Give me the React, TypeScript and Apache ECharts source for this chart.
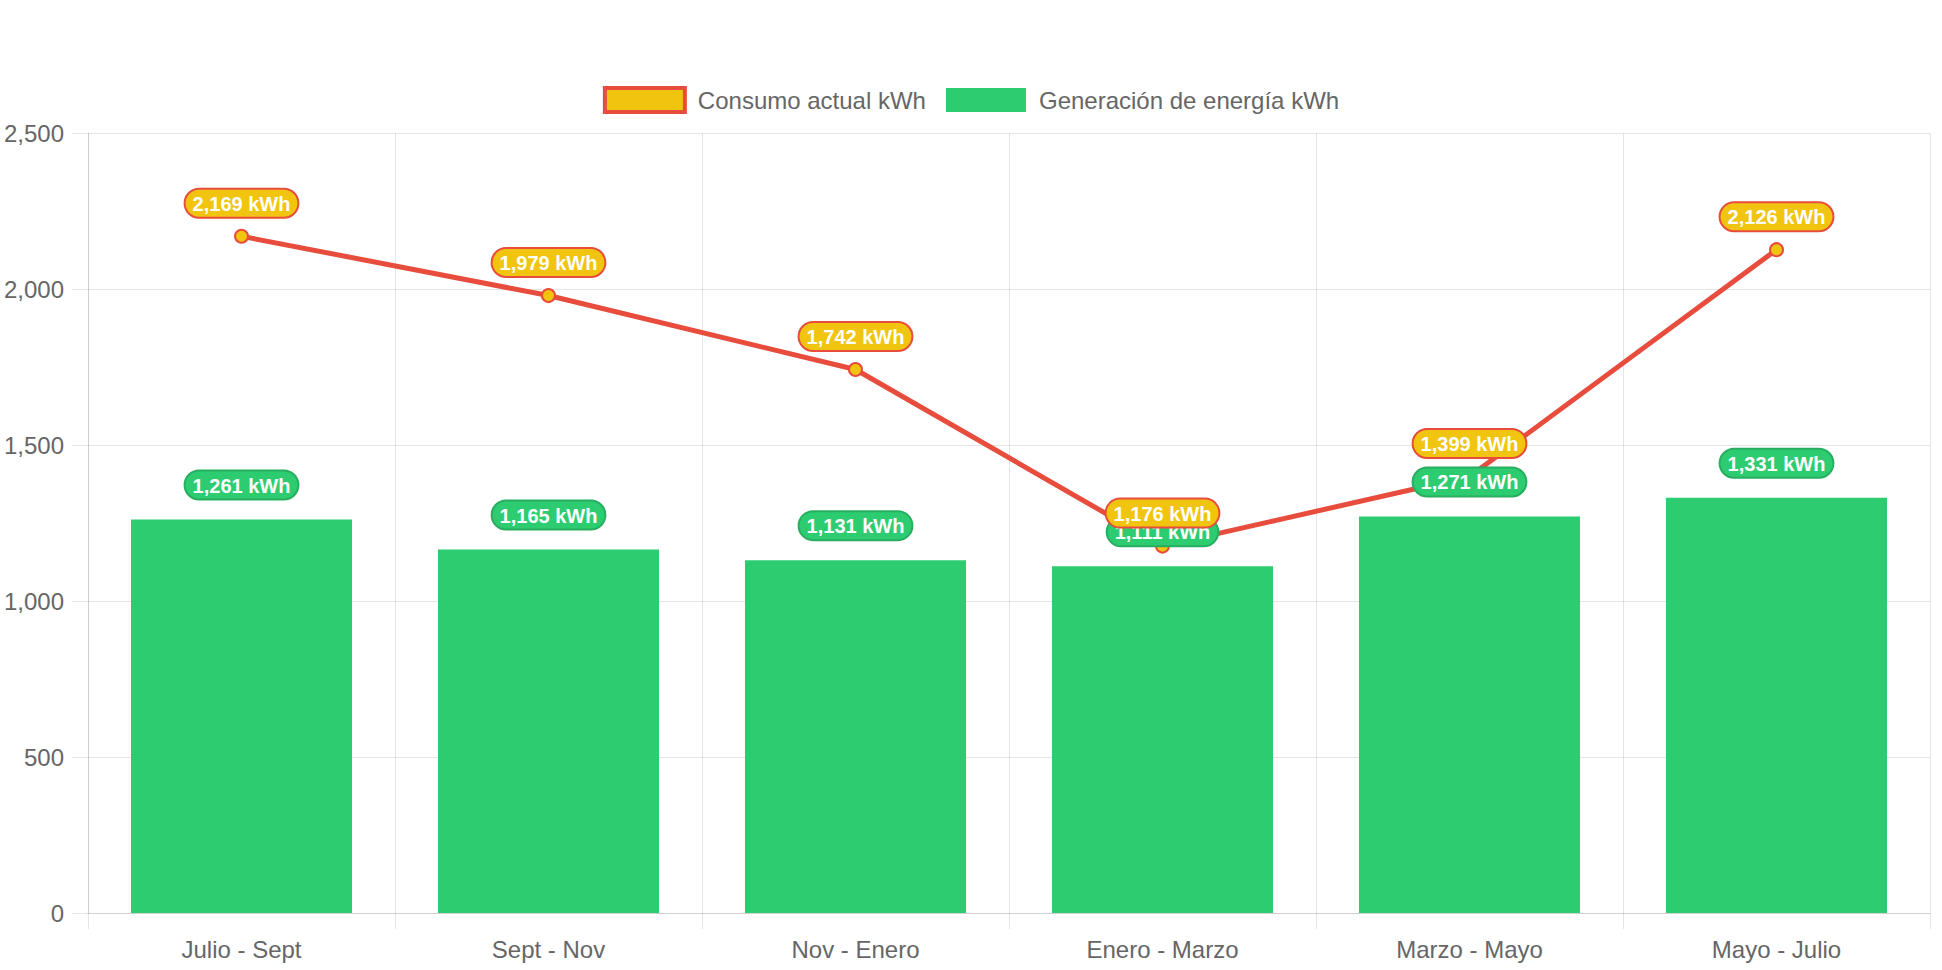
import React, { useEffect, useRef } from 'react';
import * as echarts from 'echarts';

const categories = ['Julio - Sept', 'Sept - Nov', 'Nov - Enero', 'Enero - Marzo', 'Marzo - Mayo', 'Mayo - Julio'];
const consumo = [2169, 1979, 1742, 1176, 1399, 2126];
const generacion = [1261, 1165, 1131, 1111, 1271, 1331];
const yTicks = [0, 500, 1000, 1500, 2000, 2500];
const seriesNames = ['Consumo actual kWh', 'Generación de energía kWh'];

const FONT = "'Liberation Sans', Arial, Helvetica, sans-serif";
const fmt = (v: number) => v.toLocaleString('en-US');

const labelBase = {
  show: true,
  position: 'top',
  formatter: (p: any) => fmt(p.value) + ' kWh',
  color: '#fff',
  fontWeight: 'bold',
  fontSize: 20,
  fontFamily: FONT,
  lineHeight: 22,
  borderWidth: 2,
  borderRadius: 14,
  padding: [3, 7, 2, 7],
  opacity: 1,
};

export default function App() {
  const ref = useRef<HTMLDivElement>(null);
  useEffect(() => {
    if (!ref.current) return;
    const chart = echarts.init(ref.current, undefined, { renderer: 'svg' });
    const gridColor = 'rgba(0,0,0,0.1)';
    chart.setOption({
      animation: false,
      textStyle: { fontFamily: FONT },
      legend: {
        top: 81,
        left: 'center',
        itemWidth: 80,
        itemHeight: 24,
        itemGap: 20,
        textStyle: { color: '#666', fontSize: 24, fontFamily: FONT, padding: [0, 0, 0, 8] },
        data: [
          { name: seriesNames[0], icon: 'rect', itemStyle: { color: '#f1c40f', borderColor: '#e74c3c', borderWidth: 4 } },
          { name: seriesNames[1], icon: 'rect', itemStyle: { color: '#2ecc71', borderWidth: 0 } },
        ],
      },
      grid: { left: 88, right: 12, top: 133, bottom: 57, containLabel: false },
      xAxis: {
        type: 'category',
        data: categories,
        boundaryGap: true,
        axisLine: { show: true, lineStyle: { color: '#d0d0d0', width: 1 } },
        axisTick: { show: true, length: 16, lineStyle: { color: gridColor } },
        axisLabel: { color: '#666', fontSize: 24, fontFamily: FONT, margin: 24 },
        splitLine: { show: true, lineStyle: { color: gridColor, width: 1 } },
      },
      yAxis: {
        type: 'value',
        min: yTicks[0],
        max: yTicks[yTicks.length - 1],
        interval: yTicks[1] - yTicks[0],
        axisLine: { show: true, lineStyle: { color: gridColor, width: 1 } },
        axisTick: { show: true, length: 16, lineStyle: { color: gridColor } },
        axisLabel: { color: '#666', fontSize: 24, fontFamily: FONT, margin: 24, formatter: (v: number) => fmt(v) },
        splitLine: { show: true, lineStyle: { color: gridColor, width: 1 } },
      },
      series: [
        {
          name: seriesNames[1],
          type: 'bar',
          data: generacion,
          barWidth: '72%',
          itemStyle: { color: '#2ecc71' },
          z: 2,
        },
        {
          name: seriesNames[0],
          type: 'line',
          data: consumo,
          z: 3,
          symbol: 'circle',
          symbolSize: 13,
          lineStyle: { color: '#e74c3c', width: 5 },
          itemStyle: { color: '#f1c40f', borderColor: '#e74c3c', borderWidth: 2 },
        },
        {
          name: 'barLabels',
          type: 'scatter',
          data: generacion,
          z: 4,
          symbol: 'circle',
          symbolSize: 0,
          itemStyle: { color: 'rgba(0,0,0,0)', opacity: 1 },
          silent: true,
          label: { ...labelBase, distance: 21, backgroundColor: '#2ecc71', borderColor: '#27ae60' },
        },
        {
          name: 'lineLabels',
          type: 'scatter',
          data: consumo,
          z: 5,
          symbol: 'circle',
          symbolSize: 13,
          itemStyle: { color: 'rgba(0,0,0,0)', opacity: 1 },
          silent: true,
          label: { ...labelBase, distance: 13, backgroundColor: '#f1c40f', borderColor: '#e74c3c' },
        },
      ],
    });
    return () => chart.dispose();
  }, []);
  return <div ref={ref} style={{ position: 'fixed', left: 0, top: 0, width: 1942, height: 970, background: '#fff' }} />;
}
